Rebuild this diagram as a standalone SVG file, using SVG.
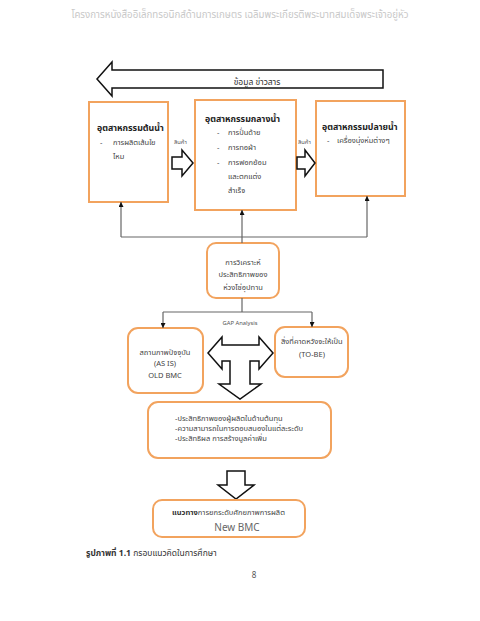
<svg xmlns="http://www.w3.org/2000/svg" width="480" height="621" viewBox="0 0 480 621">
<defs>
<style>
text{font-family:"Noto Sans Thai","Noto Sans","DejaVu Sans",sans-serif;fill:#444;}
.box{fill:#fff;stroke:#F2A35E;stroke-width:2;}
.rbox{fill:#fff;stroke:#F2A35E;stroke-width:2;}
.blk{fill:#fff;stroke:#111;stroke-width:1.5;stroke-linejoin:miter;}
.ttl{font-size:8.8px;font-weight:bold;fill:#222;}
.itm{font-size:7.5px;}
.sm{font-size:5.8px;fill:#555;}
.con{fill:none;stroke:#666;stroke-width:1.2;}
</style>
<marker id="ah" viewBox="0 0 10 10" refX="10" refY="5" markerWidth="5" markerHeight="5" orient="auto" markerUnits="userSpaceOnUse">
<path d="M0,0 L10,5 L0,10 Z" fill="#111"/>
</marker>
</defs>
<rect width="480" height="621" fill="#fff"/>
<text x="240" y="18" text-anchor="middle" style="font-size:9.7px;fill:#c8c8c8">โครงการหนังสืออิเล็กทรอนิกส์ด้านการเกษตร เฉลิมพระเกียรติพระบาทสมเด็จพระเจ้าอยู่หัว</text>

<g id="info-arrow">
<polygon class="blk" points="97,79 112,62 112,70 383,70 383,88 112,88 112,96"/>
<text x="257" y="85" text-anchor="middle" style="font-size:8.5px;fill:#333">ข้อมูล ข่าวสาร</text>
</g>

<g id="upstream">
<rect class="box" x="89" y="102" width="79" height="100"/>
<text x="97" y="131" class="ttl">อุตสาหกรรมต้นน้ำ</text>
<text x="100" y="145" class="itm">-</text>
<text x="113" y="145" class="itm">การผลิตเส้นใย</text>
<text x="113" y="159" class="itm">ไหม</text>
</g>

<g id="midstream">
<rect class="box" x="195" y="100" width="101" height="110"/>
<text x="205" y="122" class="ttl">อุตสาหกรรมกลางน้ำ</text>
<text x="217" y="135" class="itm">-</text>
<text x="228" y="135" class="itm">การปั่นด้าย</text>
<text x="217" y="150" class="itm">-</text>
<text x="228" y="150" class="itm">การทอผ้า</text>
<text x="217" y="165" class="itm">-</text>
<text x="228" y="165" class="itm">การฟอกย้อม</text>
<text x="228" y="179" class="itm">และตกแต่ง</text>
<text x="228" y="193" class="itm">สำเร็จ</text>
</g>

<g id="downstream">
<rect class="box" x="316" y="101" width="89" height="95"/>
<text x="322" y="130" class="ttl">อุตสาหกรรมปลายน้ำ</text>
<text x="327" y="143" class="itm">-</text>
<text x="337" y="143" class="itm">เครื่องนุ่งห่มต่างๆ</text>
</g>

<g id="product-arrow-1">
<text x="174" y="144" class="sm">สินค้า</text>
<polygon class="blk" points="172,157 182,157 182,150 193,163 182,176 182,169 172,169"/>
</g>
<g id="product-arrow-2">
<text x="298" y="144" class="sm">สินค้า</text>
<polygon class="blk" points="297,157 305,157 305,150 315,163 305,176 305,169 297,169"/>
</g>

<g id="analysis">
<rect class="rbox" x="207" y="243" width="72" height="55" rx="9"/>
<text x="243" y="265" text-anchor="middle" class="itm">การวิเคราะห์</text>
<text x="243" y="277" text-anchor="middle" class="itm">ประสิทธิภาพของ</text>
<text x="243" y="290" text-anchor="middle" class="itm">ห่วงโซ่อุปทาน</text>
</g>

<g id="as-is">
<rect class="rbox" x="128" y="328" width="75" height="65" rx="10"/>
<text x="165" y="355" text-anchor="middle" class="itm">สถานภาพปัจจุบัน</text>
<text x="165" y="366" text-anchor="middle" class="itm">(AS IS)</text>
<text x="165" y="378" text-anchor="middle" class="itm">OLD BMC</text>
</g>

<g id="to-be">
<rect class="rbox" x="275" y="327" width="73" height="50" rx="10"/>
<text x="281" y="344" class="itm">สิ่งที่คาดหวังจะให้เป็น</text>
<text x="312" y="357" text-anchor="middle" class="itm">(TO-BE)</text>
</g>

<g id="gap-arrow">
<polygon class="blk" points="208,353 222,337 222,345 259,345 259,337 273,353 259,369 259,361 250,361 250,384 261,384 240,399 219,384 230,384 230,361 222,361 222,369"/>
</g>

<g id="efficiency">
<rect class="rbox" x="148" y="402" width="183" height="56" rx="10"/>
<text x="175" y="421" class="itm">-ประสิทธิภาพของผู้ผลิตในด้านต้นทุน</text>
<text x="175" y="431" class="itm">-ความสามารถในการตอบสนองในแต่ละระดับ</text>
<text x="175" y="441" class="itm">-ประสิทธิผล การสร้างมูลค่าเพิ่ม</text>
</g>

<g id="down-arrow">
<polygon class="blk" points="227,471 245,471 245,485 254,485 236,499 218,485 227,485"/>
</g>

<g id="new-bmc">
<rect class="rbox" x="153" y="500" width="152" height="37" rx="9"/>
<text x="172" y="515" class="itm"><tspan style="font-weight:bold;fill:#333">แนวทาง</tspan>การยกระดับศักยภาพการผลิต</text>
<text x="237" y="531" text-anchor="middle" style="font-size:10px;fill:#666">New BMC</text>
</g>

<g id="connectors">
<line class="con" x1="121" y1="237" x2="367" y2="237"/>
<line class="con" x1="121" y1="237" x2="121" y2="202" marker-end="url(#ah)"/>
<line class="con" x1="367" y1="237" x2="367" y2="196" marker-end="url(#ah)"/>
<line class="con" x1="242" y1="243" x2="242" y2="210" marker-end="url(#ah)"/>
<line class="con" x1="242" y1="298" x2="242" y2="312"/>
<line class="con" x1="163" y1="312" x2="312" y2="312"/>
<line class="con" x1="163" y1="312" x2="163" y2="328" marker-end="url(#ah)"/>
<line class="con" x1="312" y1="312" x2="312" y2="327" marker-end="url(#ah)"/>
<text x="240" y="325" text-anchor="middle" class="sm">GAP Analysis</text>
</g>

<text x="86" y="556" style="font-size:8.5px;fill:#333"><tspan style="font-weight:bold">รูปภาพที่ 1.1</tspan> กรอบแนวคิดในการศึกษา</text>
<text x="254" y="578" text-anchor="middle" style="font-size:8px;fill:#555">8</text>
</svg>
